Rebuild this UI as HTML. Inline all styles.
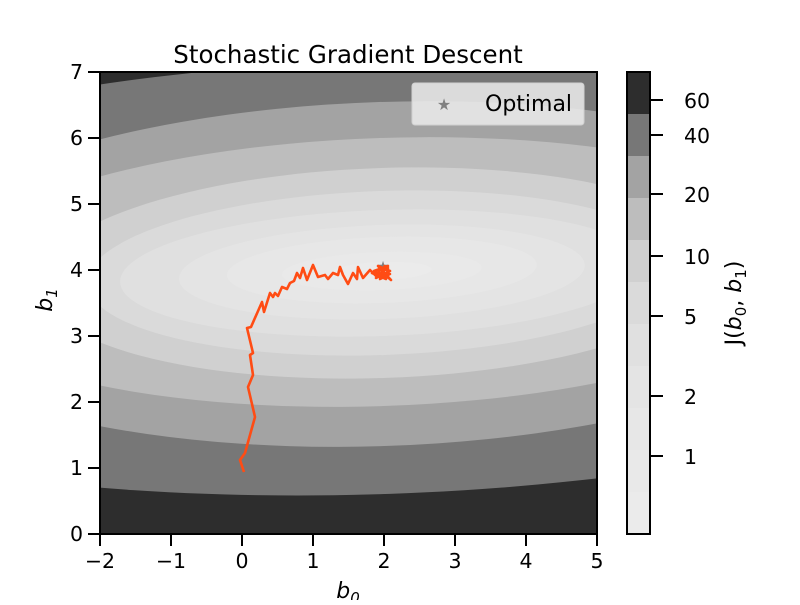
<!DOCTYPE html>
<html><head><meta charset="utf-8"><style>
body{margin:0;background:#fff;}
svg text{font-family:"DejaVu Sans","Liberation Sans",sans-serif;fill:#000;}
</style></head><body>
<svg width="800" height="600" viewBox="0 0 800 600" xmlns="http://www.w3.org/2000/svg">
<defs><clipPath id="c"><rect x="100" y="72" width="497" height="462"/></clipPath></defs>
<g clip-path="url(#c)">
<rect x="100" y="72" width="497" height="462" fill="#2d2d2d"/>
<g transform="rotate(-2 382 275)">
<ellipse cx="382" cy="277" rx="760" ry="217" fill="#777777"/>
<ellipse cx="382" cy="274" rx="510" ry="172" fill="#a3a3a3"/>
<ellipse cx="382" cy="272" rx="450" ry="134" fill="#bdbdbd"/>
<ellipse cx="382" cy="273" rx="345" ry="105" fill="#d0d0d0"/>
<ellipse cx="382" cy="273" rx="295" ry="82" fill="#dadada"/>
<ellipse cx="382" cy="273" rx="262" ry="63" fill="#e0e0e0"/>
<ellipse cx="382" cy="272" rx="203" ry="47" fill="#e4e4e4"/>
<ellipse cx="382" cy="270" rx="155" ry="33" fill="#e7e7e7"/>
<ellipse cx="382" cy="271" rx="100" ry="19" fill="#e9e9e9"/>
<ellipse cx="382" cy="271" rx="50" ry="9" fill="#ebebeb"/>
</g>
</g>
<text x="383" y="271" font-size="14" text-anchor="middle" style="fill:#808080">★</text>
<polyline fill="none" stroke="#ff4c14" stroke-width="2.6" stroke-linejoin="round" points="244,472 240,460 245,453 255,417 248,387 253,375 250,355 253,353 247,328 251,327 262,302 264,312 270,293 273,297 275,293 278,296 282,287 287,289 290,283 294,281 297,273 300,278 303,268 307,280 313,265 318,277 325,275 328,279 333,273 338,275 340,267 343,275 348,284 353,273 357,279 358,267 363,278 370,270 377,277 380,268 384,276 374,271 388,266 376,278 390,271 378,266 391,280 382,272 388,268 386,279 372,273 390,274 380,279 385,265"/>
<rect x="100" y="72" width="497" height="462" fill="none" stroke="#000" stroke-width="2"/>
<rect x="412" y="83" width="172" height="42" rx="3" fill="#ececec" fill-opacity="0.85" stroke="#d0d0d0"/>
<text x="444" y="110" font-size="16" text-anchor="middle" style="fill:#808080">★</text>
<text x="485" y="111" font-size="22">Optimal</text>
<g stroke="#000" stroke-width="2">
<line x1="100" y1="534" x2="100" y2="546"/><line x1="171" y1="534" x2="171" y2="546"/><line x1="242" y1="534" x2="242" y2="546"/><line x1="313" y1="534" x2="313" y2="546"/><line x1="384" y1="534" x2="384" y2="546"/><line x1="455" y1="534" x2="455" y2="546"/><line x1="526" y1="534" x2="526" y2="546"/><line x1="597" y1="534" x2="597" y2="546"/>
<line x1="88" y1="534" x2="100" y2="534"/><line x1="88" y1="468" x2="100" y2="468"/><line x1="88" y1="402" x2="100" y2="402"/><line x1="88" y1="336" x2="100" y2="336"/><line x1="88" y1="270" x2="100" y2="270"/><line x1="88" y1="204" x2="100" y2="204"/><line x1="88" y1="138" x2="100" y2="138"/><line x1="88" y1="72" x2="100" y2="72"/>
</g>
<g font-size="20.5" text-anchor="middle">
<text x="100" y="568">−2</text><text x="171" y="568">−1</text><text x="242" y="568">0</text><text x="313" y="568">1</text><text x="384" y="568">2</text><text x="455" y="568">3</text><text x="526" y="568">4</text><text x="597" y="568">5</text>
</g>
<g font-size="20.5" text-anchor="end">
<text x="83" y="541">0</text><text x="83" y="475">1</text><text x="83" y="409">2</text><text x="83" y="343">3</text><text x="83" y="277">4</text><text x="83" y="211">5</text><text x="83" y="145">6</text><text x="83" y="79">7</text>
</g>
<text x="348" y="598" font-size="22" text-anchor="middle" font-style="italic">b<tspan font-size="15" dy="5">0</tspan></text>
<text transform="translate(52 300) rotate(-90)" font-size="22" text-anchor="middle" font-style="italic">b<tspan font-size="15" dy="5">1</tspan></text>
<text x="348" y="63" font-size="24.5" text-anchor="middle">Stochastic Gradient Descent</text>
<rect x="627" y="72" width="23" height="42" fill="#2d2d2d"/>
<rect x="627" y="114" width="23" height="42" fill="#777777"/>
<rect x="627" y="156" width="23" height="42" fill="#a3a3a3"/>
<rect x="627" y="198" width="23" height="42" fill="#bdbdbd"/>
<rect x="627" y="240" width="23" height="42" fill="#d0d0d0"/>
<rect x="627" y="282" width="23" height="42" fill="#dadada"/>
<rect x="627" y="324" width="23" height="42" fill="#e0e0e0"/>
<rect x="627" y="366" width="23" height="42" fill="#e4e4e4"/>
<rect x="627" y="408" width="23" height="42" fill="#e7e7e7"/>
<rect x="627" y="450" width="23" height="42" fill="#e9e9e9"/>
<rect x="627" y="492" width="23" height="42" fill="#ebebeb"/>
<rect x="627" y="72" width="23" height="462" fill="none" stroke="#000" stroke-width="2"/>
<g stroke="#000" stroke-width="2">
<line x1="650" y1="100" x2="663" y2="100"/><line x1="650" y1="135" x2="663" y2="135"/><line x1="650" y1="194" x2="663" y2="194"/><line x1="650" y1="256" x2="663" y2="256"/><line x1="650" y1="316" x2="663" y2="316"/><line x1="650" y1="396" x2="663" y2="396"/><line x1="650" y1="456" x2="663" y2="456"/>
</g>
<g font-size="20.5">
<text x="684" y="108">60</text><text x="684" y="143">40</text><text x="684" y="202">20</text><text x="684" y="264">10</text><text x="684" y="324">5</text><text x="684" y="404">2</text><text x="684" y="464">1</text>
</g>
<text transform="translate(741 303) rotate(-90)" font-size="22" text-anchor="middle">J(<tspan font-style="italic">b</tspan><tspan font-size="15" dy="5">0</tspan><tspan dy="-5">, </tspan><tspan font-style="italic">b</tspan><tspan font-size="15" dy="5">1</tspan><tspan dy="-5">)</tspan></text>
</svg>
</body></html>
